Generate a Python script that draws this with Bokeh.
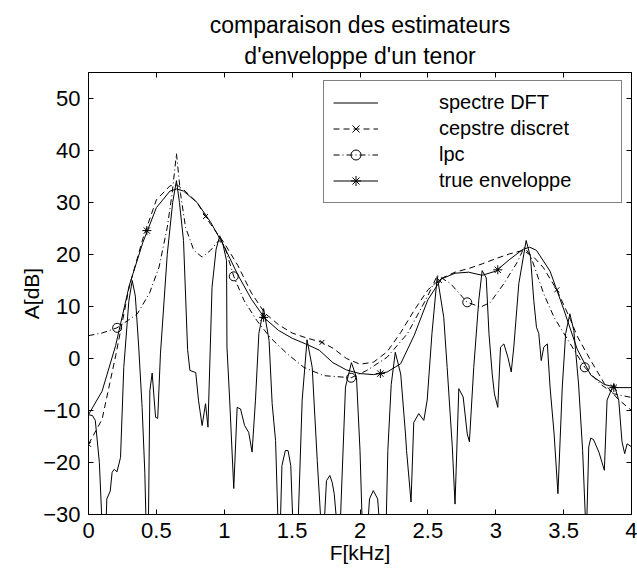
from bokeh.plotting import figure
from bokeh.models import Range1d, LinearAxis, Legend, LegendItem, FixedTicker, CustomJSTickFormatter, Title
from bokeh.embed import file_html
from bokeh.resources import INLINE

# ---------------- data ----------------
x_ticks = [0, 0.5, 1, 1.5, 2, 2.5, 3, 3.5, 4]
y_ticks = [-30, -20, -10, 0, 10, 20, 30, 40, 50]

dft_f = [0.00, 0.03, 0.05, 0.08, 0.105, 0.125, 0.135, 0.16, 0.174, 0.19, 0.21, 0.236, 0.26, 0.297, 0.322,
         0.345, 0.37, 0.395, 0.415, 0.427, 0.44, 0.452, 0.469, 0.494, 0.51, 0.53, 0.58, 0.62, 0.648, 0.67,
         0.70, 0.73, 0.747, 0.79, 0.81, 0.837, 0.862, 0.88, 0.91, 0.94, 0.967, 0.99, 1.017, 1.02, 1.04,
         1.07, 1.095, 1.12, 1.15, 1.18, 1.205, 1.23, 1.255, 1.29, 1.33, 1.353, 1.378, 1.40, 1.41, 1.425,
         1.45, 1.47, 1.49, 1.51, 1.54, 1.574, 1.61, 1.648, 1.685, 1.72, 1.73, 1.753, 1.778, 1.795, 1.81,
         1.84, 1.85, 1.893, 1.937, 1.974, 2.0, 2.02, 2.05, 2.07, 2.098, 2.13, 2.153, 2.19, 2.205, 2.23,
         2.26, 2.30, 2.335, 2.343, 2.376, 2.396, 2.433, 2.47, 2.495, 2.53, 2.569, 2.617, 2.642, 2.68, 2.70,
         2.728, 2.76, 2.79, 2.806, 2.838, 2.875, 2.90, 2.93, 2.95, 2.974, 2.99, 3.015, 3.035, 3.06, 3.09,
         3.114, 3.133, 3.17, 3.224, 3.256, 3.28, 3.30, 3.317, 3.335, 3.354, 3.38, 3.40, 3.43, 3.458, 3.49,
         3.515, 3.546, 3.575, 3.61, 3.64, 3.667, 3.685, 3.70, 3.72, 3.76, 3.80, 3.82, 3.87, 3.906, 3.93,
         3.95, 3.968, 4.0]
dft_a = [-10.8, -11.0, -11.9, -20, -35, -35, -27, -25.5, -21.9, -21.3, -21.8, -19, -1.7, 11, 15,
         12, 2.2, -9.4, -22, -35, -35, -6.2, -2.8, -11.3, -11.5, 0.9, 20, 30, 34.2, 30,
         22.7, 1.7, -2.3, -2.7, -8, -12.9, -8.7, -13.2, 13.7, 21, 23.6, 22, 18.8, 2.2, -8,
         -25, -9.4, -9.7, -12.9, -14.2, -18, -8, 4.8, 9.6, 3.5, -8.7, -15.8, -35, -35, -20.6,
         -17.7, -17.7, -20.6, -35, -35, -8, 3.6, -1.7, -19.6, -35, -35, -23.5, -22.5, -23.8, -26,
         -35, -35, -5.5, -0.8, -3.6, -17.7, -35, -35, -27, -25.4, -27, -35, -35, -17.7, -5,
         1.2, -3, -14.5, -17.7, -27.6, -12.3, -10.6, -11.9, -8, 4.8, 15.8, 7.9, -1.7, -17, -28,
         -5.8, -7.4, -14.5, -16, -1.7, 11.2, 16.9, 15.5, 4.8, -3, -6.8, -9.4, 2.2, 2.8, 0.2,
         -2.6, 2.2, 14.4, 22.7, 19.5, 11.2, 6.0, 4.8, -0.4, 2.2, 2.8, -5.5, -14.5, -26, -5.5,
         4.8, 8.6, 5.4, -4.9, -17.7, -35, -17, -15.3, -15.6, -18, -21.5, -8, -4.9, -8, -16,
         -18.3, -16.4, -17]

cep_f = [0.0, 0.1, 0.2, 0.3, 0.4, 0.5, 0.6, 0.65, 0.7, 0.8, 0.862, 0.9, 1.0, 1.1, 1.2, 1.3, 1.4, 1.5,
         1.6, 1.72, 1.8, 1.9, 2.0, 2.1, 2.2, 2.3, 2.4, 2.5, 2.59, 2.7, 2.8, 2.9, 3.0, 3.1, 3.2, 3.28,
         3.35, 3.45, 3.55, 3.6, 3.7, 3.8, 3.9, 4.0]
cep_a = [-16.5, -11.7, 0.5, 13.8, 23.0, 30.5, 33.2, 33.4, 32.5, 30.0, 27.3, 25.8, 22.2, 17.9, 12.6, 8.7,
         6.5, 4.9, 4.0, 3.1, 2.0, 0.0, -1.1, -0.7, 1.3, 5.0, 9.3, 13.2, 15.3, 16.6, 17.3, 18.2, 19.2,
         20.1, 20.8, 19.5, 17.5, 13.2, 7.5, 4.3, -0.4, -4.8, -7.8, -10.0]
cep_mark_f = [0.0, 0.862, 1.72, 2.585, 3.45]
cep_mark_a = [-16.5, 27.3, 3.1, 15.0, 13.2]

lpc_f = [0.0, 0.1, 0.21, 0.3, 0.36, 0.45, 0.52, 0.58, 0.616, 0.648, 0.678, 0.715, 0.776, 0.837, 0.899,
         0.96, 1.0, 1.07, 1.145, 1.24, 1.34, 1.46, 1.586, 1.733, 1.935, 2.05, 2.2, 2.35, 2.495, 2.57,
         2.667, 2.79, 2.89, 2.96, 3.06, 3.158, 3.21, 3.256, 3.354, 3.43, 3.526, 3.656, 3.77, 3.87, 4.0]
lpc_a = [4.4, 4.9, 5.9, 7.5, 8.6, 12.6, 17.6, 25.2, 31.7, 39.4, 31.7, 25.2, 20.8, 19.5, 20.8,
         22.7, 21.8, 15.8, 11.2, 7.3, 4.0, 1.0, -1.7, -3.3, -3.7, -2.3, 0.25, 4.8, 11.8, 16.0,
         14.4, 10.8, 9.9, 10.8, 14.4, 18.5, 21.4, 19.8, 12.4, 7.9, 3.8, -1.7, -4.9, -6.8, -7.5]
lpc_mark_f = [0.211, 1.07, 1.935, 2.79, 3.656]
lpc_mark_a = [5.9, 15.8, -3.7, 10.8, -1.7]

env_f = [0.0, 0.1, 0.2, 0.3, 0.4, 0.5, 0.6, 0.65, 0.7, 0.8, 0.9, 1.0, 1.1, 1.2, 1.3, 1.4, 1.5, 1.6,
         1.7, 1.8, 1.9, 2.0, 2.1, 2.2, 2.3, 2.4, 2.5, 2.6, 2.7, 2.8, 2.9, 3.0, 3.1, 3.2, 3.25, 3.3, 3.4,
         3.5, 3.6, 3.7, 3.8, 3.9, 4.0]
env_a = [-10.8, -6.3, 2.5, 14.0, 22.3, 29.0, 32.2, 32.6, 32.2, 30.0, 26.2, 21.5, 16.1, 11.4, 7.7, 5.4,
         3.9, 2.8, 1.6, -0.8, -2.2, -2.9, -3.1, -2.6, -1.0, 4.5, 11.3, 15.3, 16.4, 16.6, 16.0, 16.8,
         19.0, 21.0, 21.4, 20.8, 16.8, 9.5, 1.8, -3.2, -5.0, -5.6, -5.6]
env_mark_f = [0.43, 1.29, 2.15, 3.015, 3.87]
env_mark_a = [24.6, 7.9, -2.9, 17.05, -5.6]

labels = ["spectre DFT", "cepstre discret", "lpc", "true enveloppe"]
title_lines = ["comparaison des estimateurs", "d'enveloppe d'un tenor"]

# ---------------- figure ----------------
FONT = "Liberation Sans"
p = figure(width=637, height=570, output_backend="svg", toolbar_location=None,
           x_range=Range1d(0, 4), y_range=Range1d(-30, 55),
           min_border_left=88, min_border_right=6, min_border_top=72, min_border_bottom=56,
           background_fill_color="white", border_fill_color="white")

p.grid.visible = False
p.outline_line_color = "black"
p.outline_line_width = 1

fmt = CustomJSTickFormatter(code="return String(tick).replace('-', '\u2212');")

for ax in (p.xaxis[0], p.yaxis[0]):
    ax.formatter = fmt
    ax.major_tick_in = 5
    ax.major_tick_out = 0
    ax.minor_tick_line_color = None
    ax.axis_line_color = "black"
    ax.major_tick_line_color = "black"
    ax.major_label_text_font = FONT
    ax.major_label_text_font_size = "22px"
    ax.major_label_text_color = "black"
    ax.axis_label_text_font = FONT
    ax.axis_label_text_font_size = "21px"
    ax.axis_label_text_font_style = "normal"
    ax.axis_label_text_color = "black"

p.xaxis.ticker = FixedTicker(ticks=x_ticks)
p.yaxis.ticker = FixedTicker(ticks=y_ticks)
p.xaxis.axis_label = "F[kHz]"
p.yaxis.axis_label = "A[dB]"
p.xaxis.major_label_standoff = 8
p.yaxis.major_label_standoff = 8
p.xaxis.axis_label_standoff = 0
p.yaxis.axis_label_standoff = -3

# box ticks on top and right (added first so they sit next to the frame)
blank = CustomJSTickFormatter(code="return '';")
for loc, tk in (("above", x_ticks), ("right", y_ticks)):
    a = LinearAxis(ticker=FixedTicker(ticks=tk), formatter=blank, major_tick_in=5, major_tick_out=0,
                   minor_tick_line_color=None, major_label_standoff=0, axis_line_color="black")
    p.add_layout(a, loc)

# title: main title (outermost) is the first line, second line added below it
p.title.text = title_lines[0]
p.title.align = "center"
p.title.text_font = FONT
p.title.text_font_size = "23px"
p.title.text_font_style = "normal"
p.title.text_color = "black"
p.title.standoff = 0
t2 = Title(text=title_lines[1], align="center", text_font=FONT, text_font_size="23px",
           text_font_style="normal", text_color="black", standoff=7)
p.add_layout(t2, "above")

r_dft = p.line(dft_f, dft_a, line_color="black", line_width=1)
r_cep = p.line(cep_f, cep_a, line_color="black", line_width=1, line_dash="6 4")
r_cep_m = p.scatter(cep_mark_f, cep_mark_a, marker="x", size=7, line_color="black", line_width=1)
r_lpc = p.line(lpc_f, lpc_a, line_color="black", line_width=1, line_dash="6 3 1 3")
r_lpc_m = p.scatter(lpc_mark_f, lpc_mark_a, marker="circle", size=9, fill_color=None,
                    line_color="black", line_width=1)
r_env = p.line(env_f, env_a, line_color="black", line_width=1)
r_env_m = p.scatter(env_mark_f, env_mark_a, marker="asterisk", size=9, line_color="black", line_width=1)

legend = Legend(items=[
    LegendItem(label=labels[0], renderers=[r_dft]),
    LegendItem(label=labels[1], renderers=[r_cep, r_cep_m]),
    LegendItem(label=labels[2], renderers=[r_lpc, r_lpc_m]),
    LegendItem(label=labels[3], renderers=[r_env, r_env_m]),
], location=(235, 311))
legend.border_line_color = "black"
legend.border_line_width = 1
legend.background_fill_color = "white"
legend.background_fill_alpha = 1
legend.padding = 9
legend.spacing = 1
legend.margin = 0
legend.glyph_width = 45
legend.glyph_height = 25
legend.label_height = 25
legend.label_standoff = 61
legend.label_width = 173
legend.label_text_font = FONT
legend.label_text_font_size = "20px"
legend.label_text_color = "black"
p.add_layout(legend)

open("out.html", "w").write(file_html(p, INLINE))
